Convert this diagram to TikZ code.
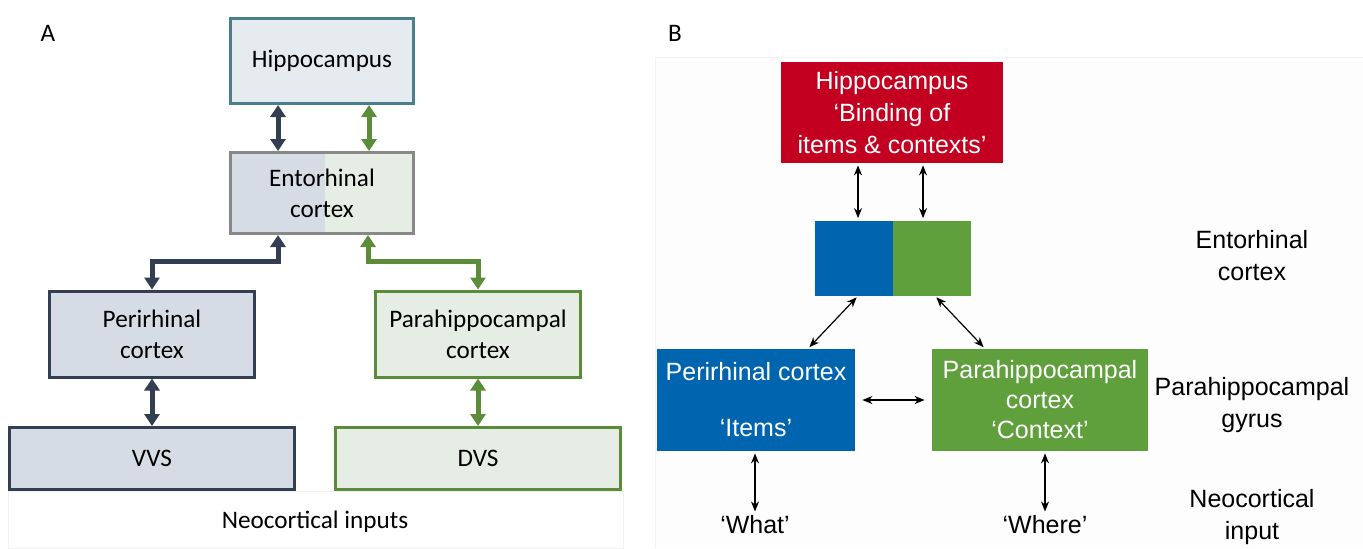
\documentclass[tikz,border=0pt]{standalone}
\usepackage{fontspec}
\setmainfont{Carlito}
\newfontfamily\arialfont{Liberation Sans}
\usepackage{tikz}
\usetikzlibrary{arrows.meta,positioning}
\definecolor{navyline}{RGB}{50,62,82}
\definecolor{navyfill}{RGB}{214,220,230}
\definecolor{greenline}{RGB}{90,140,58}
\definecolor{greenfill}{RGB}{230,237,228}
\definecolor{tealline}{RGB}{72,126,142}
\definecolor{tealfill}{RGB}{230,235,240}
\definecolor{entline}{RGB}{136,136,136}
\definecolor{hipred}{RGB}{196,0,32}
\definecolor{prcblue}{RGB}{0,101,174}
\definecolor{phcgreen}{RGB}{96,160,60}
\definecolor{panelbg}{RGB}{253,253,253}
\definecolor{paneledge}{RGB}{242,242,242}
\begin{document}
\begin{tikzpicture}[
   x=0.5pt,y=-0.5pt,
   font=\fontsize{12.6}{15.5}\selectfont,
   boxA/.style={draw,line width=1.5pt,align=center,inner sep=0pt},
   fatarr/.style={{Triangle[width=7.5pt,length=6pt]}-{Triangle[width=7.5pt,length=6pt]},line width=2.5pt,line join=miter},
   boxB/.style={align=center,inner sep=0pt,text=white,font=\arialfont\fontsize{12.5}{16}\selectfont},
   thinarr/.style={{Stealth[length=5pt,width=4pt]}-{Stealth[length=5pt,width=4pt]},line width=0.6pt,shorten >=1pt,shorten <=1pt},
   lbl/.style={align=center,inner sep=1pt,font=\arialfont\fontsize{12.5}{16}\selectfont}]
\useasboundingbox (0,0) rectangle (1363,548);
% panel A
\node (labA) at (48,33) {A};
\draw[gray!12,fill=white] (8,491) rectangle (623,548);
\node (neoA) at (315,522) {Neocortical inputs};
\node[boxA,draw=tealline,fill=tealfill,minimum width=91.5pt,minimum height=42.5pt] (hipA) at (322,61) {Hippocampus};
\node[boxA,draw=entline,fill=greenfill,minimum width=91.5pt,minimum height=40.5pt,
   path picture={\fill[navyfill] (path picture bounding box.north west) rectangle ([xshift=1.5pt]path picture bounding box.south);}] (entA) at (322,193) {Entorhinal\\cortex};
\node[boxA,draw=navyline,fill=navyfill,minimum width=102.5pt,minimum height=43pt] (periA) at (152,334) {Perirhinal\\cortex};
\node[boxA,draw=greenline,fill=greenfill,minimum width=102.5pt,minimum height=43pt] (paraA) at (478,334) {Parahippocampal\\cortex};
\node[boxA,draw=navyline,fill=navyfill,minimum width=142.5pt,minimum height=31pt] (vvs) at (152,458.5) {VVS};
\node[boxA,draw=greenline,fill=greenfill,minimum width=142.5pt,minimum height=31pt] (dvs) at (478,458.5) {DVS};
\coordinate (jA) at (322,261);
\draw[fatarr,navyline] ([xshift=-22pt]hipA.south) -- ([xshift=-22pt]entA.north);
\draw[fatarr,greenline] ([xshift=23.5pt]hipA.south) -- ([xshift=23.5pt]entA.north);
\draw[fatarr,navyline] ([xshift=-22pt]entA.south) |- (jA -| periA.north) -- (periA.north);
\draw[fatarr,greenline] ([xshift=23pt]entA.south) |- (jA -| paraA.north) -- (paraA.north);
\draw[fatarr,navyline] (periA.south) -- (vvs.north);
\draw[fatarr,greenline] (paraA.south) -- (dvs.north);
% panel B
\node (labB) at (675,33) {B};
\fill[panelbg] (655,57) rectangle (1363,548);
\draw[paneledge] (655,548) -- (655,57) -- (1363,57);
\node[boxB,fill=hipred,minimum width=111pt,minimum height=50.5pt] (hipB) at (892,112.5) {Hippocampus\\‘Binding of\\items \& contexts’};
\node[boxB,fill=prcblue,minimum width=39pt,minimum height=37.5pt] (ecL) at (854,258) {};
\node[boxB,fill=phcgreen,minimum width=39pt,minimum height=37.5pt] (ecR) at (932,258) {};
\node[boxB,fill=prcblue,minimum width=99pt,minimum height=51pt] (periB) at (756,400) {Perirhinal cortex\\[12pt]‘Items’};
\node[boxB,fill=phcgreen,minimum width=108pt,minimum height=51pt] (paraB) at (1040,400) {Parahippocampal\\[-1pt]cortex\\[-1pt]‘Context’};
\node[lbl] (what) at (755,525) {‘What’};
\node[lbl] (where) at (1045,525) {‘Where’};
\node[lbl] (ecLbl) at (1252,256) {Entorhinal\\cortex};
\node[lbl] (phgLbl) at (1252,405) {Parahippocampal\\gyrus};
\node[lbl] (neoLbl) at (1252,517) {Neocortical\\input};
\draw[thinarr] ([xshift=2pt]ecL.north) -- ([xshift=2pt]ecL.north |- hipB.south);
\draw[thinarr] ([xshift=-4.5pt]ecR.north) -- ([xshift=-4.5pt]ecR.north |- hipB.south);
\draw[thinarr] ([xshift=2pt]ecL.south) -- ([xshift=26pt]periB.north);
\draw[thinarr] ([xshift=1.5pt]ecR.south) -- ([xshift=-27.5pt]paraB.north);
\draw[thinarr,shorten >=3.5pt,shorten <=3.5pt] (periB.east) -- (paraB.west);
\draw[thinarr] (what.north |- periB.south) -- (what.north);
\draw[thinarr] (where.north |- paraB.south) -- (where.north);
\end{tikzpicture}
\end{document}
